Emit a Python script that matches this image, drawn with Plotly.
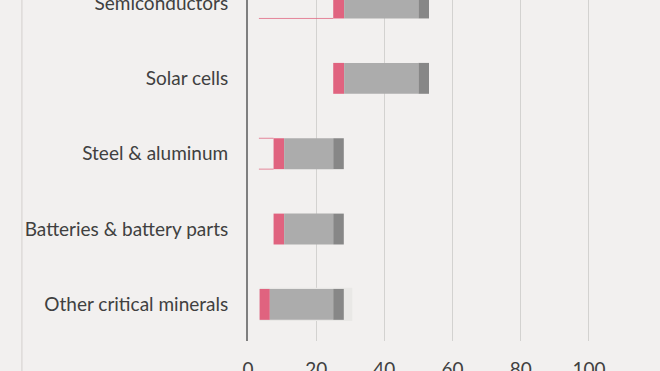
import plotly.graph_objects as go

categories = ["Other critical minerals", "Batteries & battery parts", "Steel & aluminum", "Solar cells", "Semiconductors"]
positions = [0, 1, 2, 3, 4]
start = [3.4, 7.5, 7.5, 25, 25]
pink_end = [6.4, 10.6, 10.6, 28.2, 28.2]
grey_end = [25, 25, 25, 50, 50]
dark_end = [28.1, 28.1, 28.1, 53.1, 53.1]
faint_start = [None, None, 3.2, None, 3.2]
highlight_start = [3.4, None, None, None, None]
highlight_end = [30.6, None, None, None, None]
x_ticks = [0, 20, 40, 60, 80, 100]

PINK = "#e0637f"
GREY = "#acacac"
DARK = "#878787"
BG = "#f2f0ef"
BW = 0.41

fig = go.Figure()

# faint highlight behind the last bar
fig.add_trace(go.Bar(
    y=positions,
    base=highlight_start,
    x=[(e - s) if s is not None else None for s, e in zip(highlight_start, highlight_end)],
    orientation="h", width=0.44, marker=dict(color="#e9e8e6", line=dict(width=0)),
    hoverinfo="skip", showlegend=False,
))

fig.add_trace(go.Bar(
    y=positions, base=start, x=[p - s for s, p in zip(start, pink_end)],
    orientation="h", width=BW, marker=dict(color=PINK, line=dict(width=0)), showlegend=False,
))
fig.add_trace(go.Bar(
    y=positions, base=pink_end, x=[g - p for p, g in zip(pink_end, grey_end)],
    orientation="h", width=BW, marker=dict(color=GREY, line=dict(width=0)), showlegend=False,
))
fig.add_trace(go.Bar(
    y=positions, base=grey_end, x=[d - g for g, d in zip(grey_end, dark_end)],
    orientation="h", width=BW, marker=dict(color=DARK, line=dict(width=0)), showlegend=False,
))

# faint pink outline edges (prior range)
for i, fs in enumerate(faint_start):
    if fs is None:
        continue
    edges = [-BW / 2] if categories[i] == "Semiconductors" else [-BW / 2, BW / 2]
    for e in edges:
        fig.add_trace(go.Scatter(
            x=[fs, start[i]], y=[positions[i] + e, positions[i] + e],
            mode="lines", line=dict(color=PINK, width=1), opacity=0.75,
            hoverinfo="skip", showlegend=False,
        ))

fig.update_layout(
    barmode="overlay",
    width=660, height=371,
    margin=dict(l=248, r=37, t=0, b=30),
    paper_bgcolor=BG, plot_bgcolor=BG,
    font=dict(family="Lato", size=19, color="#404040"),
    shapes=[dict(type="line", xref="paper", yref="paper", x0=-0.603, x1=-0.603, y0=-0.2, y1=1.1,
                 line=dict(color="#dddbd9", width=1.5))],
)
fig.update_xaxes(
    range=[0, 110], tickvals=x_ticks, ticktext=[str(v) for v in x_ticks],
    showgrid=True, gridcolor="#d3d2d0", gridwidth=1, zeroline=False,
    showline=False, ticks="", ticklabelstandoff=15, ticklabeloverflow="allow",
    automargin=False,
)
fig.update_yaxes(
    range=[-0.486, 4.04], tickvals=positions, ticktext=categories,
    showgrid=False, zeroline=False, showline=True, linecolor="#7f7f7f", linewidth=2,
    ticks="", ticklabelstandoff=14, ticklabeloverflow="allow", automargin=False,
)

fig.write_html("out.html", config={"displayModeBar": False},
               post_script="document.body.style.margin='0';")
